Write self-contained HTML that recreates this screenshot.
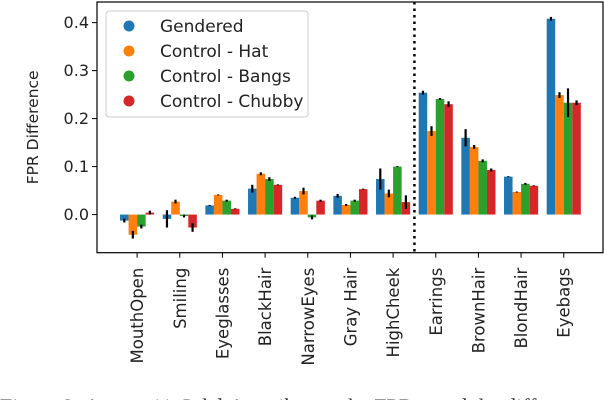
<!DOCTYPE html>
<html><head><meta charset="utf-8"><style>
html,body{margin:0;padding:0;background:#fff;width:604px;height:400px;overflow:hidden}
svg{display:block;font-family:"DejaVu Sans","Liberation Sans",sans-serif}
</style></head><body>
<svg id="chart" width="604" height="400" viewBox="0 0 604 400" xmlns="http://www.w3.org/2000/svg"></svg>
<script>
const categories=["MouthOpen","Smiling","Eyeglasses","BlackHair","NarrowEyes","Gray Hair","HighCheek","Earrings","BrownHair","BlondHair","Eyebags"];
const seriesNames=["Gendered","Control - Hat","Control - Bangs","Control - Chubby"];
const seriesColors=["#1f77b4","#ff7f0e","#2ca02c","#d62728"];
const gendered=[-0.0125,-0.009,0.019,0.054,0.035,0.039,0.074,0.254,0.160,0.079,0.408];
const hat=[-0.042,0.027,0.041,0.085,0.049,0.020,0.044,0.174,0.141,0.047,0.249];
const bangs=[-0.025,-0.003,0.029,0.074,-0.006,0.029,0.100,0.241,0.112,0.064,0.233];
const chubby=[0.004,-0.027,0.012,0.062,0.029,0.053,0.026,0.230,0.093,0.060,0.233];
const errG=[0.004,0.018,0.001,0.008,0.002,0.004,0.022,0.004,0.018,0.001,0.004];
const errH=[0.008,0.004,0.001,0.003,0.007,0.002,0.008,0.010,0.004,0.001,0.006];
const errB=[0.004,0.003,0.002,0.004,0.004,0.002,0.001,0.002,0.003,0.002,0.030];
const errC=[0.004,0.009,0.001,0.001,0.002,0.001,0.014,0.006,0.003,0.001,0.005];
const yTicks=[0.0,0.1,0.2,0.3,0.4];
const yTickLabels=["0.0","0.1","0.2","0.3","0.4"];
const series=[gendered,hat,bangs,chubby];
const errs=[errG,errH,errB,errC];

const NS="http://www.w3.org/2000/svg";
const svg=document.getElementById('chart');
const L=97,R=603,T=2,B=252.7;
const xmin=-0.94,xmax=10.92,ymin=-0.0795,ymax=0.443;
const xs=v=>L+(v-xmin)/(xmax-xmin)*(R-L);
const ys=v=>B-(v-ymin)/(ymax-ymin)*(B-T);
function el(tag,attrs,parent){const e=document.createElementNS(NS,tag);for(const k in attrs)e.setAttribute(k,attrs[k]);(parent||svg).appendChild(e);return e;}

const bw=0.2;
for(let s=0;s<4;s++){
  for(let i=0;i<categories.length;i++){
    const cx=i+(s-1.5)*bw;
    const v=series[s][i];
    const y0=ys(0),y1=ys(v);
    const r=el('rect',{x:xs(cx-bw/2),y:Math.min(y0,y1),width:xs(cx+bw/2)-xs(cx-bw/2),height:Math.abs(y1-y0),fill:seriesColors[s]});
    
    
    const e=errs[s][i];
    const l=el('line',{x1:xs(cx),x2:xs(cx),y1:ys(v-e),y2:ys(v+e),stroke:'#000','stroke-width':2.2});
    
    
  }
}
const dv=el('line',{x1:xs(6.5),x2:xs(6.5),y1:T,y2:B,stroke:'#000','stroke-width':2.5,'stroke-dasharray':'2.5,4'});


const fr=el('rect',{x:L,y:T,width:R-L,height:B-T,fill:'none',stroke:'#000','stroke-width':1.2});


for(let k=0;k<yTicks.length;k++){
  const y=ys(yTicks[k]);
  el('line',{x1:L-5,x2:L,y1:y,y2:y,stroke:'#000','stroke-width':1});
  const t=el('text',{x:L-8,y:y+5.5,'text-anchor':'end','font-size':'16',fill:'#222'});
  t.textContent=yTickLabels[k];
  
  
}
for(let i=0;i<categories.length;i++){
  const x=xs(i);
  el('line',{x1:x,x2:x,y1:B,y2:B+5,stroke:'#000','stroke-width':1});
  const t=el('text',{x:0,y:0,'text-anchor':'end','font-size':'16.5',fill:'#222',transform:`translate(${x+6},${B+15}) rotate(-90)`});
  t.textContent=categories[i];
  
  
}
const yl=el('text',{x:0,y:0,'text-anchor':'middle','font-size':'15.5',fill:'#222',transform:`translate(38,${(T+B)/2}) rotate(-90)`});
yl.textContent='FPR Difference';


const lg=el('g',{});


el('rect',{x:106,y:11,width:202,height:106,rx:3,fill:'#fff','fill-opacity':0.85,stroke:'#ccc','stroke-width':1},lg);
for(let s=0;s<4;s++){
  const y=26+s*25;
  el('circle',{cx:129,cy:y,r:5.5,fill:seriesColors[s]},lg);
  const t=el('text',{x:160,y:y+6,'font-size':'17',fill:'#222'},lg);
  t.textContent=seriesNames[s];
  
  
}
const cap=el('text',{x:0,y:414,'font-family':'"Liberation Serif",serif','font-size':'22',fill:'#333'});
cap.textContent='Figure 2: Across 11 CelebA attributes, the FPR... and the differ';


</script>
</body></html>
